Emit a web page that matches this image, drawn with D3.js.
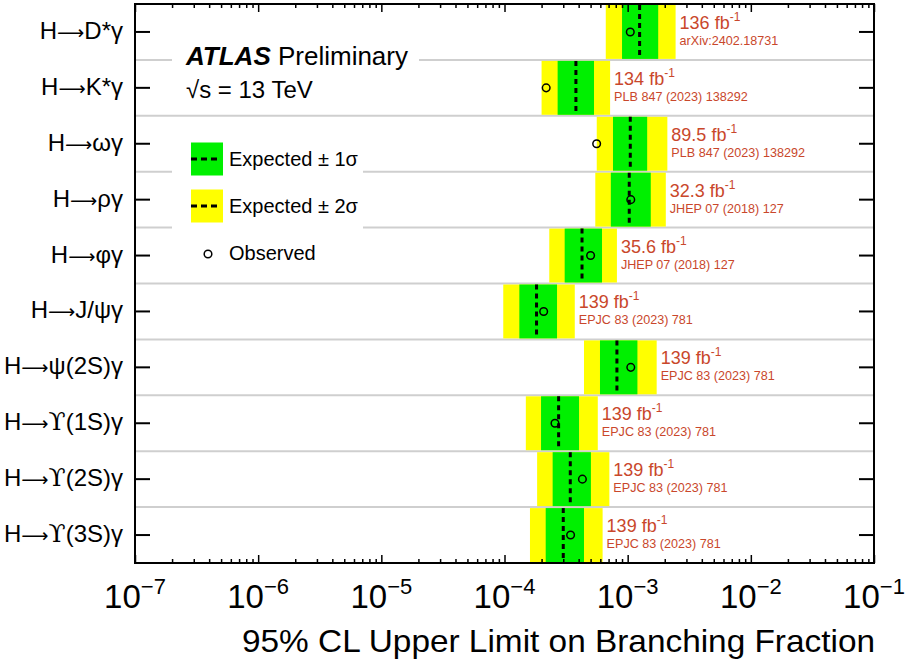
<!DOCTYPE html>
<html>
<head>
<meta charset="utf-8">
<script src="https://cdn.jsdelivr.net/npm/d3@7"></script>
<style>
  html, body { margin: 0; padding: 0; background: #fff; }
  svg { display: block; font-family: "Liberation Sans", Arial, Helvetica, sans-serif; }
</style>
</head>
<body>
<svg id="chart" width="906" height="662"></svg>
<script>
// Decay channels, top to bottom
const categories = ["H\u2192D*\u03b3", "H\u2192K*\u03b3", "H\u2192\u03c9\u03b3", "H\u2192\u03c1\u03b3", "H\u2192\u03c6\u03b3",
  "H\u2192J/\u03c8\u03b3", "H\u2192\u03c8(2S)\u03b3", "H\u2192\u03d2(1S)\u03b3", "H\u2192\u03d2(2S)\u03b3", "H\u2192\u03d2(3S)\u03b3"];

// 95% CL upper limits on the branching fraction
const expected = [1.25e-3, 3.8e-4, 1.05e-3, 1.03e-3, 4.26e-4, 1.82e-4, 8.18e-4, 2.75e-4, 3.42e-4, 3.00e-4];
const minus1 = [9.0e-4, 2.7e-4, 7.6e-4, 7.3e-4, 3.08e-4, 1.32e-4, 5.96e-4, 1.98e-4, 2.46e-4, 2.16e-4];
const plus1 = [1.77e-3, 5.33e-4, 1.44e-3, 1.54e-3, 6.19e-4, 2.67e-4, 1.20e-3, 4.03e-4, 5.03e-4, 4.42e-4];
const minus2 = [6.64e-4, 2.0e-4, 5.61e-4, 5.46e-4, 2.31e-4, 9.77e-5, 4.42e-4, 1.49e-4, 1.84e-4, 1.61e-4];
const plus2 = [2.45e-3, 7.2e-4, 2.10e-3, 2.04e-3, 8.18e-4, 3.72e-4, 1.72e-3, 5.72e-4, 7.10e-4, 6.26e-4];
const observed = [1.05e-3, 2.18e-4, 5.6e-4, 1.06e-3, 5.0e-4, 2.08e-4, 1.06e-3, 2.57e-4, 4.29e-4, 3.44e-4];

// Integrated luminosity (fb^-1) and publication of each result
const lumis = ["136", "134", "89.5", "32.3", "35.6", "139", "139", "139", "139", "139"];
const refs = ["arXiv:2402.18731", "PLB 847 (2023) 138292", "PLB 847 (2023) 138292", "JHEP 07 (2018) 127",
  "JHEP 07 (2018) 127", "EPJC 83 (2023) 781", "EPJC 83 (2023) 781", "EPJC 83 (2023) 781",
  "EPJC 83 (2023) 781", "EPJC 83 (2023) 781"];

// Axis decades
const decadeExponents = [-7, -6, -5, -4, -3, -2, -1];

const svg = d3.select("#chart");
const L = 135, R = 874, T = 4, B = 563;
const GREEN = "#00f000", YELLOW = "#ffff00", RED = "#c9472b";

const x = d3.scaleLog().domain([1e-7, 1e-1]).range([L, R]);
const y = d3.scaleBand().domain(categories).range([T, B]);
const rows = categories.map((c, i) => ({
  cat: c, exp: expected[i], m1: minus1[i], p1: plus1[i], m2: minus2[i], p2: plus2[i],
  obs: observed[i], lumi: lumis[i], ref: refs[i]
}));

// Row separators
svg.append("g").selectAll("line")
  .data(categories.slice(1))
  .join("line")
  .attr("x1", L).attr("x2", R)
  .attr("y1", d => y(d)).attr("y2", d => y(d))
  .attr("stroke", "#cfcfcf").attr("stroke-width", 2);

// Bands
const bw = y.bandwidth();
const g = svg.append("g");
g.selectAll("rect.y2").data(rows).join("rect")
  .attr("x", d => x(d.m2)).attr("width", d => x(d.p2) - x(d.m2))
  .attr("y", d => y(d.cat) + 1).attr("height", bw - 2)
  .attr("fill", YELLOW);
g.selectAll("rect.g1").data(rows).join("rect")
  .attr("x", d => x(d.m1)).attr("width", d => x(d.p1) - x(d.m1))
  .attr("y", d => y(d.cat) + 1).attr("height", bw - 2)
  .attr("fill", GREEN);
g.selectAll("line.exp").data(rows).join("line")
  .attr("x1", d => x(d.exp)).attr("x2", d => x(d.exp))
  .attr("y1", d => y(d.cat) + 1).attr("y2", d => y(d.cat) + bw - 1)
  .attr("stroke", "#000").attr("stroke-width", 3).attr("stroke-dasharray", "5,4");
g.selectAll("circle.obs").data(rows).join("circle")
  .attr("cx", d => x(d.obs)).attr("cy", d => y(d.cat) + bw / 2)
  .attr("r", 3.8).attr("fill", "none").attr("stroke", "#000").attr("stroke-width", 1.5);

// Luminosity and reference labels
const lab = svg.append("g").attr("fill", RED);
rows.forEach(d => {
  const tx = x(d.p2) + 4, cy = y(d.cat) + bw / 2;
  const t = lab.append("text").attr("x", tx).attr("y", cy - 3).attr("font-size", 18);
  t.append("tspan").text(d.lumi + " fb");
  t.append("tspan").attr("font-size", 12).attr("dy", -8).text("-1");
  lab.append("text").attr("x", tx).attr("y", cy + 13).attr("font-size", 12.6).text(d.ref);
});

// Y axis, left and right; the arrow is drawn as a long thin arrow and
// the upsilon taken from a font with the hooked glyph
svg.append("g").attr("transform", `translate(${L},0)`)
  .call(d3.axisLeft(y).tickSizeInner(-15).tickSizeOuter(0).tickPadding(12))
  .call(a => a.select(".domain").remove())
  .call(a => a.selectAll("line").attr("stroke-width", 2))
  .call(a => a.selectAll("text").attr("font-size", 24).attr("fill", "#000")
    .attr("font-family", "'Liberation Sans', Arial, sans-serif").attr("dy", "0.29em")
    .each(function (d) {
      const t = d3.select(this);
      t.text(null);
      const parts = d.split(/(\u2192|\u03d2)/).filter(s => s.length);
      parts.forEach(p => {
        if (p === "\u2192") {
          t.append("tspan").attr("font-family", "'DejaVu Sans', sans-serif").attr("font-size", 19).text("\u27f6");
        } else if (p === "\u03d2") {
          t.append("tspan").attr("font-family", "'DejaVu Serif', serif").attr("font-size", 25).text(p);
        } else {
          t.append("tspan").text(p);
        }
      });
    }));
svg.append("g").attr("transform", `translate(${R},0)`)
  .call(d3.axisRight(y).tickSizeInner(-15).tickSizeOuter(0).tickFormat(""))
  .call(a => a.select(".domain").remove())
  .call(a => a.selectAll("line").attr("stroke-width", 2));

// X axis ticks, bottom and top (major decades longer than minor)
const allTicks = x.ticks();
const majorTicks = decadeExponents.map(e => Math.pow(10, e));
const minorTicks = allTicks.filter(v => !majorTicks.some(m => Math.abs(v / m - 1) < 1e-6));
[[d3.axisBottom, B], [d3.axisTop, T]].forEach(([axisFn, pos]) => {
  svg.append("g").attr("transform", `translate(0,${pos})`)
    .call(axisFn(x).tickValues(minorTicks).tickSizeInner(-4).tickSizeOuter(0).tickFormat(""))
    .call(a => a.select(".domain").remove())
    .call(a => a.selectAll("line").attr("stroke-width", 1.5));
  svg.append("g").attr("transform", `translate(0,${pos})`)
    .call(axisFn(x).tickValues(majorTicks).tickSizeInner(-8).tickSizeOuter(0).tickFormat(""))
    .call(a => a.select(".domain").remove())
    .call(a => a.selectAll("line").attr("stroke-width", 1.5));
});

// Decade labels
decadeExponents.forEach(e => {
  const t = svg.append("text").attr("x", x(Math.pow(10, e))).attr("y", 608)
    .attr("text-anchor", "middle").attr("font-size", 33).attr("fill", "#000");
  t.append("tspan").text("10");
  t.append("tspan").attr("font-size", 22).attr("dy", -14).text("\u2212" + Math.abs(e));
});

// Frame
svg.append("rect").attr("x", L).attr("y", T).attr("width", R - L).attr("height", B - T)
  .attr("fill", "none").attr("stroke", "#000").attr("stroke-width", 2);

// Axis title
svg.append("text").attr("x", R + 1).attr("y", 652).attr("text-anchor", "end")
  .attr("font-size", 32).attr("fill", "#000")
  .attr("textLength", 633).attr("lengthAdjust", "spacingAndGlyphs")
  .text("95% CL Upper Limit on Branching Fraction");

// Experiment label
svg.append("rect").attr("x", 172).attr("y", 38).attr("width", 247).attr("height", 70).attr("fill", "#fff");
const atl = svg.append("text").attr("x", 186).attr("y", 65).attr("font-size", 26).attr("fill", "#000");
atl.append("tspan").attr("font-weight", "bold").attr("font-style", "italic").text("ATLAS");
atl.append("tspan").text(" Preliminary");
svg.append("text").attr("x", 186).attr("y", 98).attr("font-size", 24).attr("fill", "#000")
  .text("\u221as = 13 TeV");

// Legend
svg.append("rect").attr("x", 172).attr("y", 130).attr("width", 191).attr("height", 142).attr("fill", "#fff");
const leg = svg.append("g");
[[GREEN, 159, "Expected \u00b1 1\u03c3"], [YELLOW, 206, "Expected \u00b1 2\u03c3"]].forEach(([c, cy, txt]) => {
  leg.append("rect").attr("x", 191).attr("y", cy - 16.5).attr("width", 32).attr("height", 33).attr("fill", c);
  leg.append("line").attr("x1", 191).attr("x2", 220).attr("y1", cy).attr("y2", cy)
    .attr("stroke", "#000").attr("stroke-width", 3).attr("stroke-dasharray", "6,4");
  leg.append("text").attr("x", 229).attr("y", cy + 7).attr("font-size", 20).attr("fill", "#000").text(txt);
});
leg.append("circle").attr("cx", 208).attr("cy", 254).attr("r", 3.8)
  .attr("fill", "none").attr("stroke", "#000").attr("stroke-width", 1.5);
leg.append("text").attr("x", 229).attr("y", 260).attr("font-size", 20).attr("fill", "#000").text("Observed");
</script>
</body>
</html>
